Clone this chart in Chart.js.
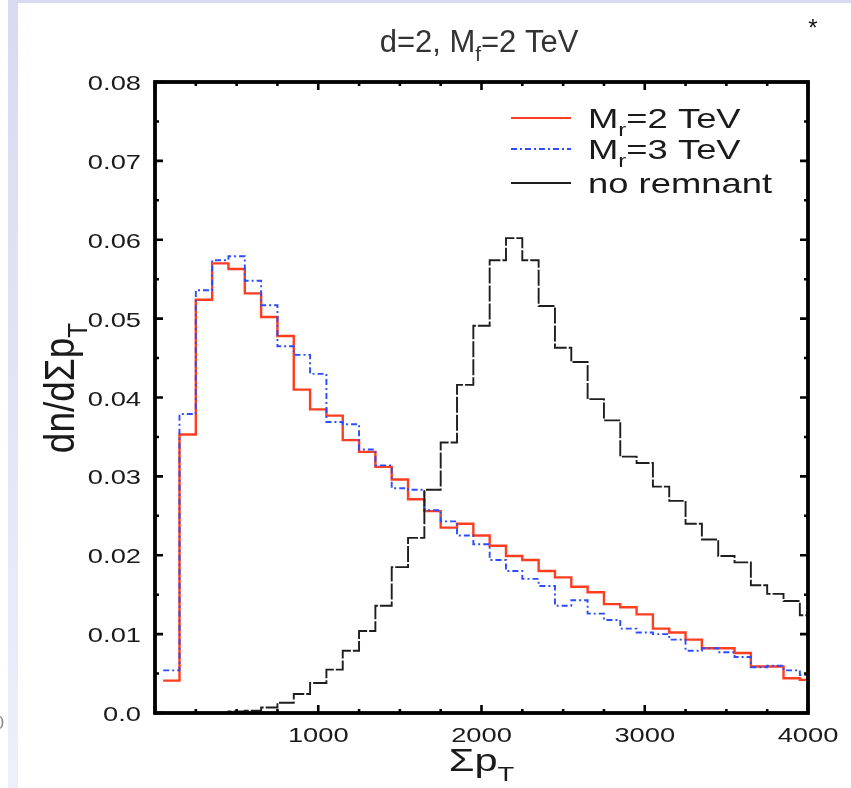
<!DOCTYPE html>
<html>
<head>
<meta charset="utf-8">
<script src="https://cdn.jsdelivr.net/npm/chart.js@4"></script>
<style>
  body { margin: 0; background: #fff; }
</style>
</head>
<body>
<canvas id="myChart" width="851" height="788"></canvas>
<script>
// bin centres (sum pT), bins are 100 wide
var bins = [100, 200, 300, 400, 500, 600, 700, 800, 900, 1000,
  1100, 1200, 1300, 1400, 1500, 1600, 1700, 1800, 1900, 2000,
  2100, 2200, 2300, 2400, 2500, 2600, 2700, 2800, 2900, 3000,
  3100, 3200, 3300, 3400, 3500, 3600, 3700, 3800, 3900, 4000];

var mr2_values = [0.0041, 0.0353, 0.0524, 0.0570, 0.0563, 0.0532, 0.0502, 0.0478, 0.0410, 0.0385,
  0.0377, 0.0346, 0.0331, 0.0312, 0.0296, 0.0271, 0.0256, 0.0235, 0.0240, 0.0225,
  0.0212, 0.0199, 0.0194, 0.0180, 0.0172, 0.0160, 0.0153, 0.0138, 0.0134, 0.0125,
  0.0107, 0.0102, 0.0093, 0.0082, 0.0082, 0.0076, 0.0059, 0.0059, 0.0044, 0.0042];

var mr3_values = [0.0054, 0.0379, 0.0536, 0.0574, 0.0579, 0.0548, 0.0517, 0.0465, 0.0454, 0.0430,
  0.0369, 0.0366, 0.0334, 0.0314, 0.0285, 0.0283, 0.0257, 0.0243, 0.0225, 0.0214,
  0.0194, 0.0180, 0.0170, 0.0161, 0.0136, 0.0143, 0.0126, 0.0118, 0.0107, 0.0102,
  0.0100, 0.0093, 0.0079, 0.0082, 0.0077, 0.0071, 0.0058, 0.0060, 0.0054, 0.0048];

var noremnant_values = [0, 0, 0, 0, 0.0002, 0.0003, 0.0007, 0.0013, 0.0024, 0.0038,
  0.0055, 0.0079, 0.0104, 0.0136, 0.0185, 0.0222, 0.0283, 0.0343, 0.0416, 0.0491,
  0.0574, 0.0602, 0.0574, 0.0516, 0.0463, 0.0445, 0.0398, 0.0371, 0.0325, 0.0317,
  0.0287, 0.0269, 0.0240, 0.0220, 0.0199, 0.0191, 0.0162, 0.0151, 0.0142, 0.0124];

var labels = ['M_r=2 TeV', 'M_r=3 TeV', 'no remnant'];
var colors = ['#ff3d20', '#2b4cff', '#1e1e1e'];
var dashes = [[], [6, 3, 2, 3], [16, 2]];

var title = 'd=2, M_f=2 TeV';
var xTitle = '\u03a3p_T';
var yTitle = 'dn/d\u03a3p_T';

var FONT = '"Liberation Sans", Arial, sans-serif';
var SX = 1.3; // text in the original is stretched sideways

// histogram outline: point at each left bin edge, stepped
function histo(vals) {
  var half = (bins[1] - bins[0]) / 2;
  var pts = bins.map(function(c, i) { return { x: c - half, y: vals[i] }; });
  pts.push({ x: bins[bins.length - 1] + half, y: vals[vals.length - 1] });
  return pts;
}

// text with "_x" subscripts
function richText(ctx, str, x, y, size, align, sx, rotate) {
  var parts = [];
  for (var i = 0; i < str.length; i++) {
    if (str[i] == '_') {
      parts.push({ t: str[i + 1], sub: true });
      i++;
    } else if (parts.length && !parts[parts.length - 1].sub) {
      parts[parts.length - 1].t += str[i];
    } else {
      parts.push({ t: str[i], sub: false });
    }
  }
  ctx.save();
  ctx.translate(x, y);
  if (rotate) { ctx.rotate(-Math.PI / 2); ctx.scale(1, sx); }
  else ctx.scale(sx, 1);
  ctx.textAlign = 'left';
  ctx.textBaseline = 'alphabetic';
  var w = 0;
  parts.forEach(function(p) {
    ctx.font = (p.sub ? size * 0.66 : size) + 'px ' + FONT;
    p.w = ctx.measureText(p.t).width;
    w += p.w;
  });
  var cx = align == 'center' ? -w / 2 : (align == 'right' ? -w : 0);
  parts.forEach(function(p) {
    ctx.font = (p.sub ? size * 0.66 : size) + 'px ' + FONT;
    ctx.fillText(p.t, cx, p.sub ? size * 0.3 : 0);
    cx += p.w;
  });
  ctx.restore();
}

var backdrop = {
  id: 'backdrop',
  beforeDraw: function(chart) {
    var ctx = chart.ctx;
    ctx.save();
    ctx.fillStyle = '#fff';
    ctx.fillRect(0, 0, chart.width, chart.height);
    var g = ctx.createLinearGradient(0, 0, 0, chart.height);
    g.addColorStop(0, '#d8daf1');
    g.addColorStop(1, '#eeeffa');
    ctx.fillStyle = g;
    ctx.fillRect(8, 0, 10, chart.height);
    ctx.fillStyle = '#d8daf1';
    ctx.fillRect(8, 0, chart.width - 8, 3);
    // cut-off glyph at the left edge of the slide
    ctx.fillStyle = '#888';
    ctx.font = '18px ' + FONT;
    ctx.textAlign = 'right';
    ctx.fillText('0', 4, 729);
    ctx.restore();
  }
};

var frame = {
  id: 'frame',
  afterDraw: function(chart) {
    var ctx = chart.ctx;
    var a = chart.chartArea;
    var xs = chart.scales.x, ys = chart.scales.y;
    ctx.save();
    ctx.strokeStyle = '#000';
    ctx.lineWidth = 3.8;
    ctx.strokeRect(a.left, a.top, a.right - a.left, a.bottom - a.top);

    // inward ticks on all four sides
    ctx.lineWidth = 2.6;
    var xStep = xs.options.ticks.stepSize / 4;
    for (var v = xs.min; v <= xs.max + 1e-9; v += xStep) {
      var px = xs.getPixelForValue(v);
      var len = (Math.round(v / xStep) % 4 == 0) ? 8 : 4;
      ctx.beginPath();
      ctx.moveTo(px, a.bottom); ctx.lineTo(px, a.bottom - len);
      ctx.moveTo(px, a.top); ctx.lineTo(px, a.top + len);
      ctx.stroke();
    }
    var yStep = ys.options.ticks.stepSize / 2;
    for (var k = 0; k <= Math.round((ys.max - ys.min) / yStep); k++) {
      var py = ys.getPixelForValue(ys.min + k * yStep);
      var len2 = (k % 2 == 0) ? 8 : 4;
      ctx.beginPath();
      ctx.moveTo(a.left, py); ctx.lineTo(a.left + len2, py);
      ctx.moveTo(a.right, py); ctx.lineTo(a.right - len2, py);
      ctx.stroke();
    }

    // tick labels
    ctx.fillStyle = '#1a1a1a';
    ys.ticks.forEach(function(t) {
      var s = t.value == 0 ? '0.0' : t.value.toFixed(2);
      richText(ctx, s, a.left - 14, ys.getPixelForValue(t.value) + 8, 21, 'right', SX);
    });
    xs.ticks.forEach(function(t) {
      if (t.value == 0) return;
      richText(ctx, String(t.value), xs.getPixelForValue(t.value), a.bottom + 29, 21, 'center', SX);
    });

    // titles
    richText(ctx, xTitle, (a.left + a.right) / 2, 771, 32, 'center', SX);
    richText(ctx, yTitle, 74, 388, 37, 'center', 1.15, true);
    ctx.fillStyle = '#333';
    richText(ctx, title, 479, 52, 31, 'center', 1);
    ctx.fillStyle = '#111';
    richText(ctx, '*', 813, 36, 24, 'center', 1);

    // legend
    var rows = [118, 149, 183];
    labels.forEach(function(lab, i) {
      ctx.strokeStyle = colors[i];
      ctx.lineWidth = 2;
      ctx.setLineDash(i == 1 ? dashes[1] : []);
      ctx.beginPath();
      ctx.moveTo(511, rows[i]); ctx.lineTo(571, rows[i]);
      ctx.stroke();
      ctx.setLineDash([]);
      ctx.fillStyle = '#1a1a1a';
      richText(ctx, lab, 588, rows[i] + 10, 28, 'left', SX);
    });
    ctx.restore();
  }
};

var series = [mr2_values, mr3_values, noremnant_values];
var dataset = series.map(function(vals, i) {
  return {
    label: labels[i],
    data: histo(vals),
    borderColor: colors[i],
    borderWidth: i == 0 ? 2.4 : 1.9,
    borderDash: dashes[i],
    stepped: 'before',
    pointRadius: 0,
    fill: false,
    clip: 1
  };
});
// draw black first, red on top
dataset.reverse();

var ctx = document.getElementById('myChart').getContext('2d');
var myChart = new Chart(ctx, {
  type: 'line',
  data: { datasets: dataset },
  options: {
    responsive: false,
    animation: false,
    events: [],
    layout: { padding: { top: 82, right: 43, left: 0, bottom: 0 } },
    plugins: { legend: { display: false }, tooltip: { enabled: false }, title: { display: false } },
    scales: {
      x: {
        type: 'linear', min: 0, max: 4000,
        ticks: { stepSize: 1000, display: false },
        grid: { display: false, drawTicks: false },
        border: { display: false },
        afterFit: function(s) { s.height = 75; }
      },
      y: {
        min: 0, max: 0.08,
        ticks: { stepSize: 0.01, display: false },
        grid: { display: false, drawTicks: false },
        border: { display: false },
        afterFit: function(s) { s.width = 155; }
      }
    }
  },
  plugins: [backdrop, frame]
});
</script>
</body>
</html>
